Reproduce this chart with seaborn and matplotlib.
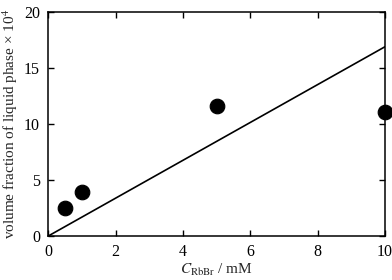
import numpy as np
import pandas as pd
import matplotlib
matplotlib.use("Agg")
import matplotlib.pyplot as plt
import seaborn as sns

# measured points
conc = [0.5, 1.0, 5.0, 10.0]
vol_frac = [2.5, 3.9, 11.6, 11.1]

# fitted line
fit_x = [0.0, 10.0]
fit_y = [0.0, 16.9]

sns.set_style("ticks")
plt.rcParams["font.family"] = ["Liberation Serif", "DejaVu Serif"]
plt.rcParams["mathtext.fontset"] = "stix"

df = pd.DataFrame({"c": conc, "v": vol_frac})
fit = pd.DataFrame({"c": fit_x, "v": fit_y})

fig, ax = plt.subplots(figsize=(3.92, 2.8), dpi=100)
fig.subplots_adjust(left=0.123, right=0.982, top=0.957, bottom=0.157)

sns.lineplot(data=fit, x="c", y="v", color="black", linewidth=1.2, ax=ax)
sns.scatterplot(data=df, x="c", y="v", color="black", s=110, edgecolor="black",
                zorder=3, ax=ax, clip_on=False)

ax.set_xlim(0, 10)
ax.set_ylim(0, 20)
ax.set_xticks([0, 2, 4, 6, 8, 10])
ax.set_yticks([0, 5, 10, 15, 20])
ax.tick_params(direction="in", top=True, right=True, labelsize=11.5, length=4,
               width=1, colors="black", pad=6)
for s in ax.spines.values():
    s.set_linewidth(1.1)
    s.set_color("black")

ax.set_xlabel(r"$C_{\mathrm{RbBr}}$ / mM", fontsize=11, labelpad=1)
ax.set_ylabel("volume fraction of liquid phase \u00d7 10$^4$", fontsize=11, labelpad=3)

fig.savefig("out.png", dpi=100)
